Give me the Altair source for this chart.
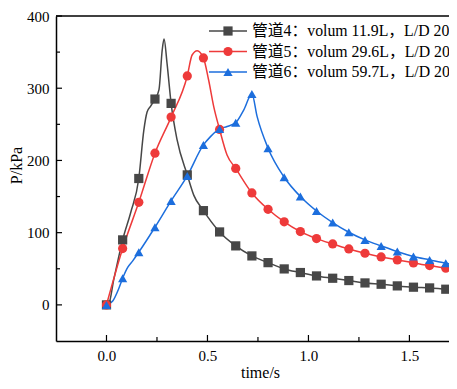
import altair as alt
import pandas as pd

# ---- data ----
t_markers = [0.00, 0.08, 0.16, 0.24, 0.32, 0.40, 0.48, 0.56, 0.64, 0.72, 0.80, 0.88,
             0.96, 1.04, 1.12, 1.20, 1.28, 1.36, 1.44, 1.52, 1.60, 1.68, 1.76]
p4 = [0, 90, 175, 285, 279, 180, 130.5, 101, 81.7, 67.8, 58.5, 49.8,
      44.8, 40.1, 36.9, 33.7, 30.4, 28.6, 26.3, 24.5, 23.5, 21.7, 20.5]
p5 = [0, 78, 142, 210, 260, 317, 342, 243, 189, 155, 132.4, 115,
      101.5, 91.8, 84.4, 77.5, 71.5, 66.4, 62.3, 58.1, 54.4, 50.8, 47.5]
p6 = [0, 37, 73, 107.5, 144, 178.5, 221.5, 243.6, 252.3, 292, 217, 176.7,
      150, 130, 114, 100.6, 90, 81.7, 73.8, 66.9, 62.3, 57.7, 54]

# extra points read along the curves between markers
t4_extra = [0.012, 0.036, 0.061, 0.12, 0.185, 0.201, 0.218, 0.26, 0.276, 0.285, 0.30, 0.35, 0.432]
p4_extra = [2, 35, 67, 128, 242, 267, 275, 298, 353, 368, 334, 228, 152]
t5_extra = [0.424, 0.449, 0.506, 0.531, 0.597]
p5_extra = [346, 352, 311, 274.5, 207.6]
t6_extra = [0.03, 0.06, 0.105, 0.13, 0.515, 0.597, 0.68, 0.746]
p6_extra = [5, 22, 52, 61, 233, 247, 270, 260.6]

names = ["管道4：volum 11.9L，L/D 20",
         "管道5：volum 29.6L，L/D 20",
         "管道6：volum 59.7L，L/D 20"]
colors = ["#474747", "#EE3A3A", "#1C6EDD"]
shapes = ["square", "circle", "triangle-up"]

x_major = [0.0, 0.5, 1.0, 1.5]
x_minor = [0.25, 0.75, 1.25]
y_major = [0, 100, 200, 300, 400]
y_minor = [50, 150, 250, 350]

# ---- build tables ----
pts = []
lines = []
series_data = [(p4, t4_extra, p4_extra), (p5, t5_extra, p5_extra), (p6, t6_extra, p6_extra)]
for name, (pm, te, pe) in zip(names, series_data):
    for t, p in zip(t_markers, pm):
        pts.append({"t": t, "p": p, "series": name})
    combined = sorted(list(zip(t_markers, pm)) + list(zip(te, pe)))
    for t, p in combined:
        lines.append({"t": t, "p": p, "series": name})
df_pts = pd.DataFrame(pts)
df_lines = pd.DataFrame(lines)

W, H = 393, 325
FONT = "Liberation Serif"
CJK = "Liberation Serif, 'Noto Sans CJK SC'"

xs = alt.Scale(domain=[-0.25, 1.696], nice=False, zero=False)
ys = alt.Scale(domain=[-50, 400], nice=False, zero=False)
cs = alt.Scale(domain=names, range=colors)
ss = alt.Scale(domain=names, range=shapes)

x_axis = alt.Axis(
    values=x_major, format=".1f", tickSize=0, labelPadding=7, grid=False,
    title="time/s", titleX=204, titleY=31, titleBaseline="middle",
    titleAlign="center", domainColor="black", domainWidth=1.5)
y_axis = alt.Axis(
    values=y_major, format="d", tickSize=0, labelPadding=7, grid=False,
    title="P/kPa", titleX=-40, titleY=149, titleBaseline="middle",
    titleAlign="center", domainColor="black", domainWidth=1.5)

line_layer = alt.Chart(df_lines).mark_line(
    interpolate="monotone", strokeWidth=1.5, clip=True
).encode(
    x=alt.X("t:Q", scale=xs, axis=x_axis, title="time/s"),
    y=alt.Y("p:Q", scale=ys, axis=y_axis, title="P/kPa"),
    color=alt.Color("series:N", scale=cs, legend=None),
    detail="series:N",
)

point_layer = alt.Chart(df_pts).mark_point(filled=True, opacity=1, size=85, clip=True).encode(
    x=alt.X("t:Q", scale=xs, axis=x_axis, title="time/s"),
    y=alt.Y("p:Q", scale=ys, axis=y_axis, title="P/kPa"),
    color=alt.Color("series:N", scale=cs, legend=None),
    shape=alt.Shape("series:N", scale=ss, legend=None),
)

# inward ticks
xt_major = alt.Chart(pd.DataFrame({"t": x_major})).mark_rule(color="black", strokeWidth=1.2).encode(
    x=alt.X("t:Q", scale=xs, axis=x_axis, title="time/s"), y=alt.value(H), y2=alt.value(H - 6))
xt_minor = alt.Chart(pd.DataFrame({"t": x_minor})).mark_rule(color="black", strokeWidth=1.2).encode(
    x=alt.X("t:Q", scale=xs, axis=x_axis, title="time/s"), y=alt.value(H), y2=alt.value(H - 4))
yt_major = alt.Chart(pd.DataFrame({"p": y_major})).mark_rule(color="black", strokeWidth=1.2).encode(
    y=alt.Y("p:Q", scale=ys, axis=y_axis, title="P/kPa"), x=alt.value(0), x2=alt.value(6))
yt_minor = alt.Chart(pd.DataFrame({"p": y_minor})).mark_rule(color="black", strokeWidth=1.2).encode(
    y=alt.Y("p:Q", scale=ys, axis=y_axis, title="P/kPa"), x=alt.value(0), x2=alt.value(4))

top_border = alt.Chart(pd.DataFrame({"a": [0]})).mark_rule(color="black", strokeWidth=1.5).encode(
    x=alt.value(0), x2=alt.value(W), y=alt.value(0))

legend_layers = []
for i, (name, col, shp) in enumerate(zip(names, colors, shapes)):
    yy = 15 + 20.5 * i
    d = pd.DataFrame({"label": [name]})
    legend_layers.append(alt.Chart(d).mark_rule(color=col, strokeWidth=1.5).encode(
        x=alt.value(153), x2=alt.value(191), y=alt.value(yy)))
    legend_layers.append(alt.Chart(d).mark_point(
        filled=True, opacity=1, size=85, color=col, shape=shp).encode(
        x=alt.value(172), y=alt.value(yy)))
    legend_layers.append(alt.Chart(d).mark_text(
        align="left", baseline="middle", font=CJK, fontSize=15.8, color="black").encode(
        x=alt.value(196), y=alt.value(yy), text="label:N"))

chart = alt.layer(
    line_layer, point_layer, xt_major, xt_minor, yt_major, yt_minor, top_border,
    *legend_layers
).properties(
    width=W, height=H,
    autosize=alt.AutoSizeParams(type="none"),
    padding={"left": 48, "top": 8, "right": 0, "bottom": 40},
).configure_view(stroke=None).configure_axis(
    labelFont=FONT, labelFontSize=15, labelColor="black",
    titleFont=FONT, titleFontSize=16, titleFontWeight="normal", titleColor="black",
)

chart.save("out.html", embed_options={"renderer": "svg", "actions": False})
